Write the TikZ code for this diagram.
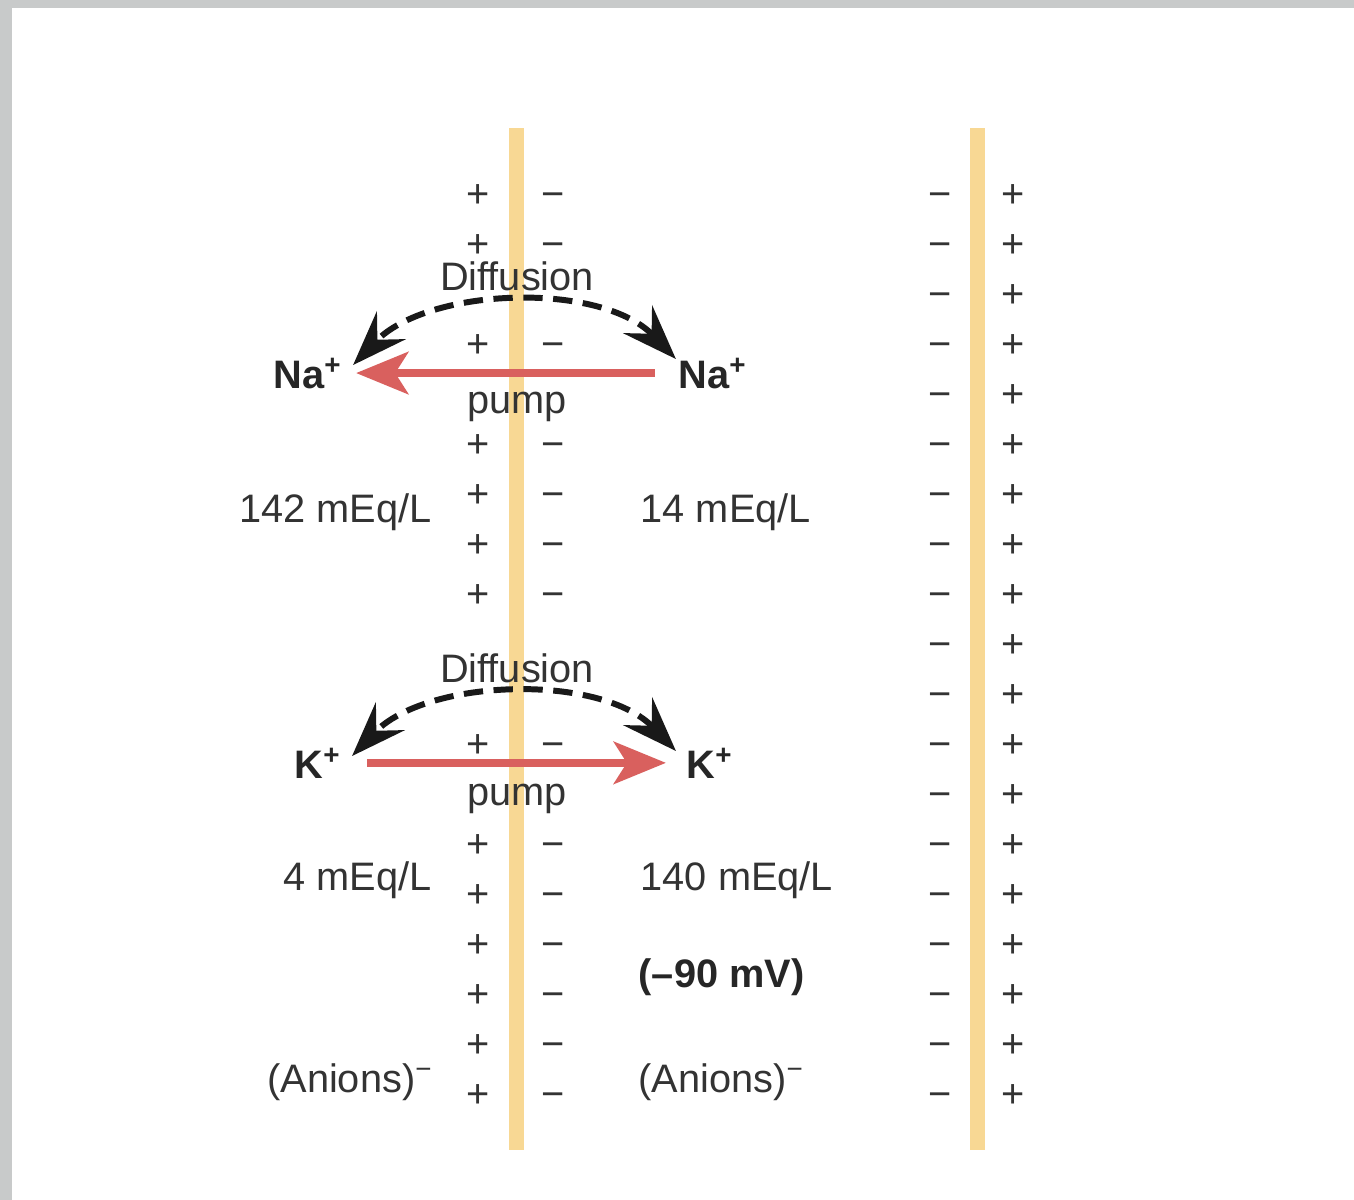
\documentclass[tikz,border=0pt]{standalone}
\usepackage{fontspec}
\setmainfont{Liberation Sans}
\usetikzlibrary{arrows.meta}

\definecolor{membrane}{HTML}{F8D894}
\definecolor{pumpred}{HTML}{D9605E}
\definecolor{inktext}{HTML}{333333}
\definecolor{framegray}{HTML}{C8CACA}

\tikzset{
  lbl/.style={inner sep=0pt, text=inktext, font=\fontsize{11.3}{13}\selectfont},
  ion/.style={lbl, text=black!85, font=\fontsize{11.3}{13}\selectfont\bfseries},
  sgn/.style={lbl, anchor=base, text=inktext},
  diffarrow/.style={black!90, line width=1.7pt, dash pattern=on 5.5pt off 3pt,
    {Stealth[length=0.55cm, width=0.4cm, inset=0.2cm]}-{Stealth[length=0.55cm, width=0.4cm, inset=0.2cm]}},
  pumparrow/.style={pumpred, line width=2.4pt, -{Stealth[length=0.52cm, width=0.42cm, inset=0.13cm]}}
}

\begin{document}
\begin{tikzpicture}[x=0.01cm, y=-0.01cm]
    \useasboundingbox (0,0) rectangle (1354,1200);
    % page frame
    \fill[framegray] (0,0) rectangle (1354,1200);
    \fill[white] (12,8) rectangle (1354,1200);

    % membranes
    \fill[membrane] (509,128) rectangle (524,1150);
    \fill[membrane] (970,128) rectangle (985,1150);

    % charges on the left membrane
    \foreach \y [count=\i] in {207,257,357,457,507,557,607,757,857,907,957,1007,1057,1107} {
      \node[sgn] (lp\i) at (478,\y) {+};
      \node[sgn] (lm\i) at (553,\y) {−};
    }
    % charges on the right membrane
    \foreach \y [count=\i] in {207,257,...,1107} {
      \node[sgn] (rm\i) at (940,\y) {−};
      \node[sgn] (rp\i) at (1013,\y) {+};
    }

    % sodium
    \node[lbl, anchor=base] (diffNa) at (517,290) {Diffusion};
    \node[ion, anchor=base] (naL) at (308,388) {Na\textsuperscript{+}};
    \node[ion, anchor=base] (naR) at (713,388) {Na\textsuperscript{+}};
    \node[lbl, anchor=base] (pumpNa) at (517,413) {pump};
    \draw[diffarrow] ([shift={(-2,2)}]naR.north west) .. controls +(-75,-78) and +(75,-78) .. ([shift={(10,8)}]naL.north east);
    \draw[pumparrow, shorten <=0.23cm, shorten >=0.13cm] (naR.west) -- (naL.east);
    \node[lbl, anchor=base east] (naIn) at (432,522) {142 mEq/L};
    \node[lbl, anchor=base west] (naOut) at (640,522) {14 mEq/L};

    % potassium
    \node[lbl, anchor=base] (diffK) at (517,682) {Diffusion};
    \node[ion, anchor=base] (kL) at (318,778) {K\textsuperscript{+}};
    \node[ion, anchor=base] (kR) at (710,778) {K\textsuperscript{+}};
    \node[lbl, anchor=base] (pumpK) at (517,805) {pump};
    \draw[diffarrow] ([shift={(-10,4)}]kR.north west) .. controls +(-75,-78) and +(75,-78) .. ([shift={(10,9)}]kL.north east);
    \draw[pumparrow, shorten <=0.25cm, shorten >=0.2cm] (kL.east) -- (kR.west);
    \node[lbl, anchor=base east] (kIn) at (432,890) {4 mEq/L};
    \node[lbl, anchor=base west] (kOut) at (640,890) {140 mEq/L};

    % potential and anions
    \node[ion, anchor=base west] (volt) at (638,987) {(–90 mV)};
    \node[lbl, anchor=base east] (anIn) at (434,1092) {(Anions)\textsuperscript{−}};
    \node[lbl, anchor=base west] (anOut) at (638,1092) {(Anions)\textsuperscript{−}};
\end{tikzpicture}
\end{document}
